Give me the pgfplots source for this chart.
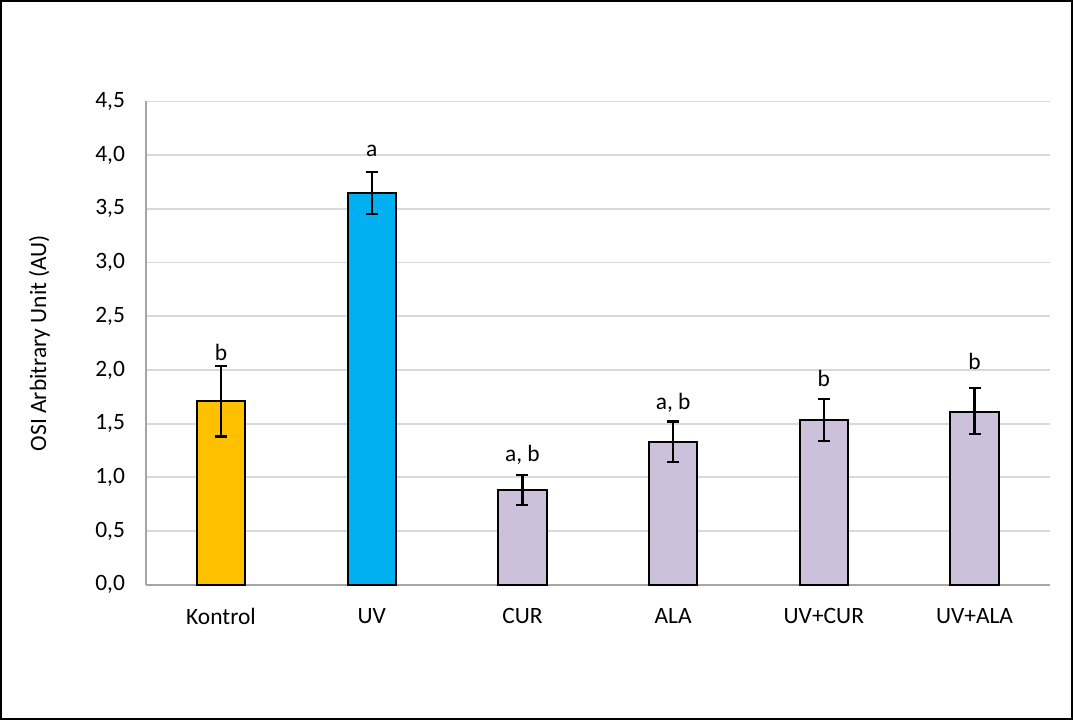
\documentclass[border=0pt]{standalone}
\usepackage{fontspec}
\setmainfont{Carlito}
\usepackage{pgfplots}
\pgfplotsset{compat=1.18}
\definecolor{kon}{HTML}{FFC000}
\definecolor{uvc}{HTML}{00B0F0}
\definecolor{lil}{HTML}{CCC0DA}
\definecolor{gridc}{HTML}{D9D9D9}
\definecolor{axc}{HTML}{A6A6A6}
\newcommand{\fnt}{\fontsize{17.5}{21}\selectfont}
\pgfplotsset{
  mybar/.style={ybar, bar width=36pt, bar shift=0pt, fill=#1, draw=black, line width=1.5pt,
    error bars/.cd, y dir=both, y explicit,
    error bar style={line width=1.6pt, black},
    error mark options={rotate=90, mark size=4.5pt, line width=1.6pt, black}},
}
\begin{document}
\begin{tikzpicture}
\begin{axis}[
  scale only axis, width=675pt, height=360.75pt,
  xmin=-0.5, xmax=5.5, ymin=0, ymax=4.5,
  xtick={0,...,5}, xticklabels={Kontrol,UV,CUR,ALA,UV+CUR,UV+ALA},
  ytick={0,0.5,...,4.5},
  ymajorgrids, grid style={gridc, line width=1.3pt},
  axis x line*=bottom, axis y line*=left,
  axis line style={axc, line width=1.3pt, -},
  major tick length=0pt,
  tick label style={font=\fnt, black},
  /pgf/number format/fixed, /pgf/number format/fixed zerofill,
  /pgf/number format/precision=1, /pgf/number format/use comma,
  /pgf/number format/assume math mode=true,
  yticklabel style={xshift=-12pt},
  xticklabel style={yshift=-14pt},
  ylabel={OSI Arbitrary Unit (AU)},
  ylabel style={font=\fnt},
  ylabel shift=27pt,
  clip=false,
]
\addplot[mybar=kon] table[x=x, y=y, y error plus=ep, y error minus=em] {
x y ep em
0 1.71 0.33 0.33
};
\addplot[mybar=uvc] table[x=x, y=y, y error plus=ep, y error minus=em] {
x y ep em
1 3.65 0.19 0.20
};
\addplot[mybar=lil] table[x=x, y=y, y error plus=ep, y error minus=em] {
x y ep em
2 0.88 0.14 0.14
3 1.33 0.19 0.19
4 1.53 0.20 0.19
5 1.61 0.22 0.21
};
\addplot[draw=none, mark=none, nodes near coords, point meta=explicit symbolic,
  every node near coord/.append style={anchor=center, font=\fnt, black}]
  coordinates {(0,2.16) [b] (1,4.04) [a] (2,1.21) [{a, b}] (3,1.69) [{a, b}] (4,1.92) [b] (5,2.08) [b]};
\end{axis}
\draw[line width=1.5pt] ([shift={(-108pt,-100.5pt)}]current axis.south west) rectangle ([shift={(16.5pt,75pt)}]current axis.north east);
\end{tikzpicture}
\end{document}
